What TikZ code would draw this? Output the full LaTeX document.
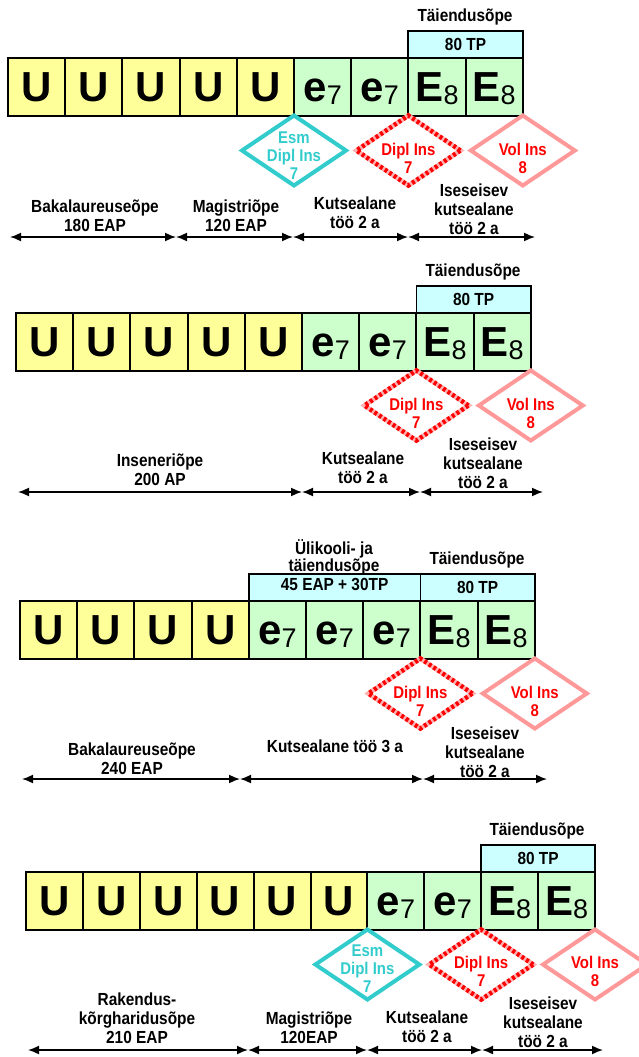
\documentclass[tikz,border=0pt]{standalone}
\usepackage{fontspec}
\setmainfont{Liberation Sans}
\newfontfamily\narrowfont{Liberation Sans}[FakeStretch=0.88]
\usetikzlibrary{shapes.geometric,arrows.meta}
\definecolor{uyel}{HTML}{FFFF99}
\definecolor{egrn}{HTML}{CCFFCC}
\definecolor{tcyan}{HTML}{CCFFFF}
\definecolor{esmc}{HTML}{33CCCC}
\definecolor{volc}{HTML}{FF9999}
\definecolor{diplbg}{HTML}{FFB0B0}
\newcommand\esub{e\raisebox{-3pt}{\fontsize{27}{27}\selectfont\mdseries 7}}
\newcommand\Esub{E\raisebox{-3pt}{\fontsize{27}{27}\selectfont\mdseries 8}}
\tikzset{
 cell/.style={draw=black, line width=2pt, minimum width=57.2pt, minimum height=57.5pt, inner sep=0pt, outer sep=0pt, text height=30pt, text depth=0pt, font=\fontsize{42}{42}\selectfont\bfseries, anchor=north west},
 ucell/.style={cell, fill=uyel},
 gcell/.style={cell, fill=egrn},
 topbox/.style={draw=black, line width=1.5pt, fill=tcyan, inner sep=0pt, outer sep=0pt, anchor=north west, minimum height=27pt, font=\narrowfont\fontsize{17.5}{18}\selectfont\bfseries},
 lbl/.style={font=\narrowfont\fontsize{17.5}{19}\selectfont\bfseries, align=center, inner sep=0pt},
 dia/.style={shape=diamond, minimum width=104pt, minimum height=70pt, inner sep=0pt, outer sep=0pt, anchor=north},
 esmd/.style={dia, draw=esmc, line width=4pt},
 vold/.style={dia, draw=volc, line width=4pt},
 dipld/.style={dia, draw=diplbg, line width=4.5pt, postaction={draw=red, line width=4.5pt, dash pattern=on 3pt off 2.5pt}},
 dtxt/.style={font=\narrowfont\fontsize{17}{18}\selectfont\bfseries, align=center, inner sep=0pt},
 spanarrow/.style={{Latex[length=11pt,width=9pt]}-{Latex[length=11pt,width=9pt]}, line width=1.6pt},
}
\begin{document}
\begin{tikzpicture}[x=1pt,y=-1pt]
\useasboundingbox (0,0) rectangle (639,1057);
% ================= Panel 1
\node[lbl] (a-tai) at (465,17) {Täiendusõpe};
\node[topbox, minimum width=115pt] (a-80) at (408,31) {80 TP};
\foreach \i in {0,...,4} \node[ucell] (a\i) at ({8+\i*57.2},58) {U};
\foreach \i in {5,6} \node[gcell] (a\i) at ({8+\i*57.2},58) {\esub};
\foreach \i in {7,8} \node[gcell] (a\i) at ({8+\i*57.2},58) {\Esub};
\node[esmd] (a-esm) at (a4.south east) {};
\node[dtxt, text=esmc] (a-esmt) at ([yshift=-5pt]a-esm.center) {Esm\\Dipl Ins\\7};
\node[dipld] (a-dipl) at (a6.south east) {};
\node[dtxt, text=red] (a-diplt) at ([yshift=-8pt]a-dipl.center) {Dipl Ins\\7};
\node[vold] (a-vol) at (a8.south east) {};
\node[dtxt, text=red] (a-volt) at ([yshift=-8pt]a-vol.center) {Vol Ins\\8};
\node[lbl] (a-l1) at (95,215.5) {Bakalaureuseõpe\\180 EAP};
\node[lbl] (a-l2) at (236,215.5) {Magistriõpe\\120 EAP};
\node[lbl] (a-l3) at (355,212.5) {Kutsealane\\töö 2 a};
\node[lbl] (a-l4) at (474,209) {Iseseisev\\kutsealane\\töö 2 a};
\coordinate (a-p0) at (10,237);
\coordinate (a-p1) at (176,237);
\coordinate (a-p2) at (293,237);
\coordinate (a-p3) at (408,237);
\coordinate (a-p4) at (535,237);
\draw[spanarrow] (a-p0) -- (a-p1);
\draw[spanarrow] (a-p1) -- (a-p2);
\draw[spanarrow] (a-p2) -- (a-p3);
\draw[spanarrow] (a-p3) -- (a-p4);
% ================= Panel 2
\node[lbl] (b-tai) at (473,272) {Täiendusõpe};
\node[topbox, minimum width=114.4pt] (b-80) at (416.4,286) {80 TP};
\foreach \i in {0,...,4} \node[ucell] (b\i) at ({16+\i*57.2},313) {U};
\foreach \i in {5,6} \node[gcell] (b\i) at ({16+\i*57.2},313) {\esub};
\foreach \i in {7,8} \node[gcell] (b\i) at ({16+\i*57.2},313) {\Esub};
\node[dipld] (b-dipl) at (b6.south east) {};
\node[dtxt, text=red] (b-diplt) at ([yshift=-8pt]b-dipl.center) {Dipl Ins\\7};
\node[vold] (b-vol) at (b8.south east) {};
\node[dtxt, text=red] (b-volt) at ([yshift=-8pt]b-vol.center) {Vol Ins\\8};
\node[lbl] (b-l1) at (160,470) {Inseneriõpe\\200 AP};
\node[lbl] (b-l3) at (363,468) {Kutsealane\\töö 2 a};
\node[lbl] (b-l4) at (483,463) {Iseseisev\\kutsealane\\töö 2 a};
\coordinate (b-p0) at (18,492);
\coordinate (b-p1) at (302,492);
\coordinate (b-p2) at (420,492);
\coordinate (b-p3) at (543,492);
\draw[spanarrow] (b-p0) -- (b-p1);
\draw[spanarrow] (b-p1) -- (b-p2);
\draw[spanarrow] (b-p2) -- (b-p3);
% ================= Panel 3
\node[lbl, font=\narrowfont\fontsize{17.5}{15}\selectfont\bfseries] (c-uli) at (334,557) {Ülikooli- ja\\täiendusõpe};
\node[lbl] (c-tai) at (477,560) {Täiendusõpe};
\node[topbox, minimum width=171.6pt, text depth=6pt] (c-45) at (248.8,574) {45 EAP + 30TP};
\node[topbox, minimum width=114.4pt] (c-80) at (420.4,574) {80 TP};
\foreach \i in {0,...,3} \node[ucell] (c\i) at ({20+\i*57.2},601) {U};
\foreach \i in {4,5,6} \node[gcell] (c\i) at ({20+\i*57.2},601) {\esub};
\foreach \i in {7,8} \node[gcell] (c\i) at ({20+\i*57.2},601) {\Esub};
\node[dipld] (c-dipl) at (c6.south east) {};
\node[dtxt, text=red] (c-diplt) at ([yshift=-8pt]c-dipl.center) {Dipl Ins\\7};
\node[vold] (c-vol) at (c8.south east) {};
\node[dtxt, text=red] (c-volt) at ([yshift=-8pt]c-vol.center) {Vol Ins\\8};
\node[lbl] (c-l1) at (132,758.5) {Bakalaureuseõpe\\240 EAP};
\node[lbl] (c-l3) at (335,746) {Kutsealane töö 3 a};
\node[lbl] (c-l4) at (485,752) {Iseseisev\\kutsealane\\töö 2 a};
\coordinate (c-p0) at (22,779);
\coordinate (c-p1) at (240,779);
\coordinate (c-p2) at (423,779);
\coordinate (c-p3) at (547,779);
\draw[spanarrow] (c-p0) -- (c-p1);
\draw[spanarrow] (c-p1) -- (c-p2);
\draw[spanarrow] (c-p2) -- (c-p3);
% ================= Panel 4
\node[lbl] (d-tai) at (537,831) {Täiendusõpe};
\node[topbox, minimum width=113.8pt] (d-80) at (481.2,845) {80 TP};
\foreach \i in {0,...,5} \node[ucell, minimum width=56.9pt] (d\i) at ({26+\i*56.9},872) {U};
\foreach \i in {6,7} \node[gcell, minimum width=56.9pt] (d\i) at ({26+\i*56.9},872) {\esub};
\foreach \i in {8,9} \node[gcell, minimum width=56.9pt] (d\i) at ({26+\i*56.9},872) {\Esub};
\node[esmd] (d-esm) at (d5.south east) {};
\node[dtxt, text=esmc] (d-esmt) at ([yshift=-4pt]d-esm.center) {Esm\\Dipl Ins\\7};
\node[dipld] (d-dipl) at (d7.south east) {};
\node[dtxt, text=red] (d-diplt) at ([yshift=-7pt]d-dipl.center) {Dipl Ins\\7};
\node[vold] (d-vol) at (d9.south east) {};
\node[dtxt, text=red] (d-volt) at ([yshift=-7pt]d-vol.center) {Vol Ins\\8};
\node[lbl] (d-l1) at (137,1018) {Rakendus-\\kõrgharidusõpe\\210 EAP};
\node[lbl] (d-l2) at (309,1027.5) {Magistriõpe\\120EAP};
\node[lbl] (d-l3) at (427,1026.5) {Kutsealane\\töö 2 a};
\node[lbl] (d-l4) at (543,1022) {Iseseisev\\kutsealane\\töö 2 a};
\coordinate (d-p0) at (28,1050);
\coordinate (d-p1) at (248,1050);
\coordinate (d-p2) at (367,1050);
\coordinate (d-p3) at (482,1050);
\coordinate (d-p4) at (603,1050);
\draw[spanarrow] (d-p0) -- (d-p1);
\draw[spanarrow] (d-p1) -- (d-p2);
\draw[spanarrow] (d-p2) -- (d-p3);
\draw[spanarrow] (d-p3) -- (d-p4);
\end{tikzpicture}
\end{document}
